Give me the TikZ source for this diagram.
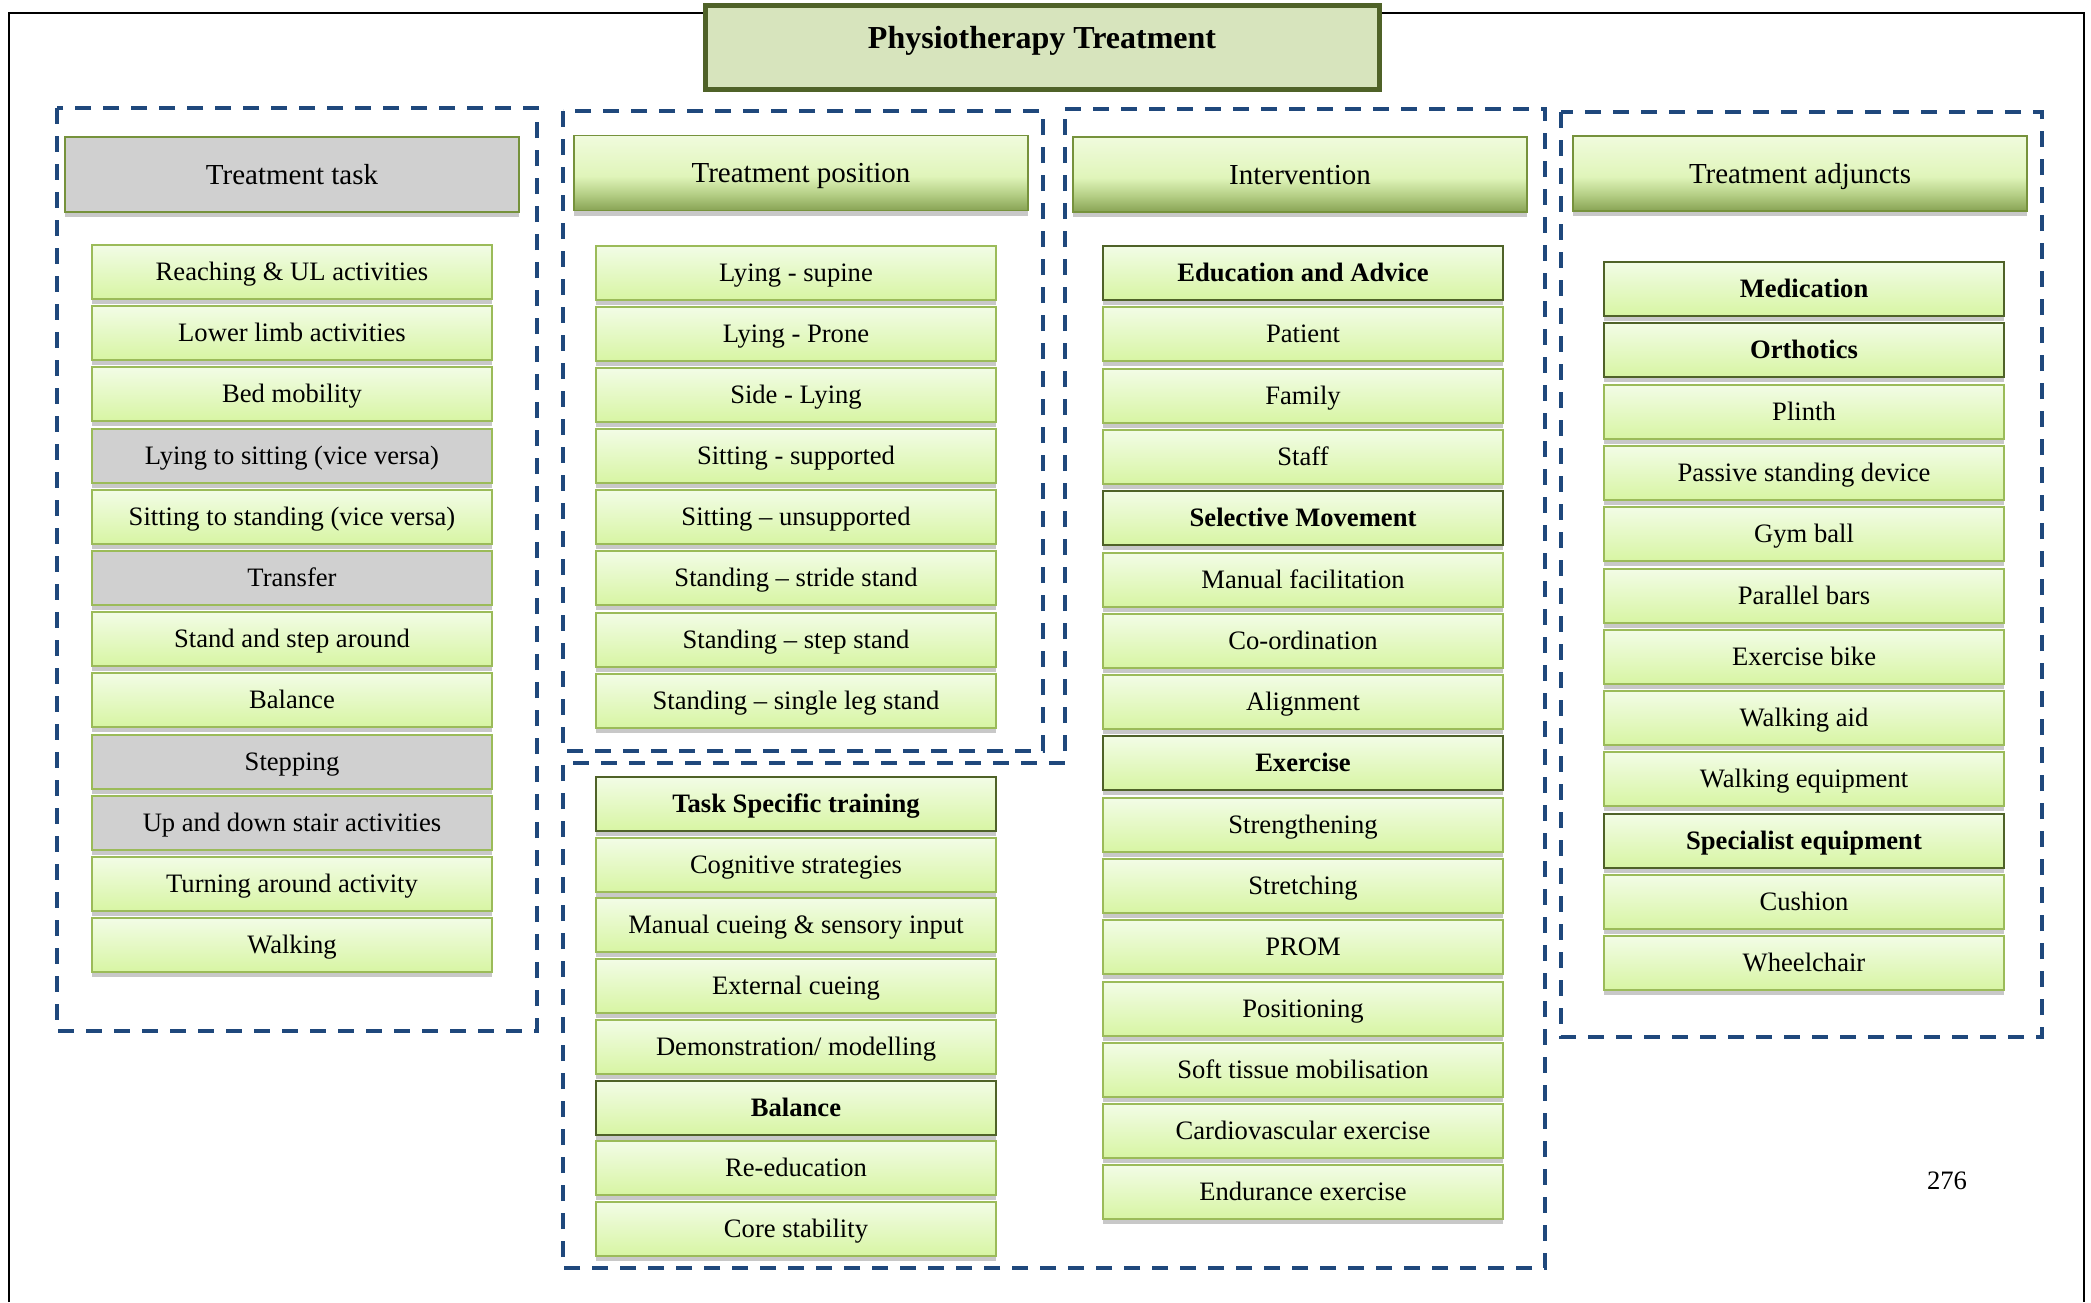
\documentclass[tikz,border=0pt]{standalone}
\usepackage{fontspec}
\setmainfont{Liberation Serif}
\usetikzlibrary{shadows}

\definecolor{dashblue}{HTML}{1F487C}
\definecolor{itemtop}{HTML}{F2FCE6}
\definecolor{itembot}{HTML}{D7F5A3}
\definecolor{itemline}{HTML}{9BBB59}
\definecolor{keyline}{HTML}{4F6228}
\definecolor{shadowc}{HTML}{C8C8C8}
\definecolor{greyfill}{HTML}{D0D0D0}
\definecolor{hdrline}{HTML}{76923C}
\definecolor{hdrtop}{HTML}{F0FBDD}
\definecolor{hdrlight}{HTML}{E0F5BA}
\definecolor{hdrmid}{HTML}{B5CF86}
\definecolor{hdrbot}{HTML}{88A354}
\definecolor{titlefill}{HTML}{D7E4BD}
\definecolor{titleline}{HTML}{4F6228}

% header gradient: pale green on top, darkening to olive at the bottom edge
\pgfdeclareverticalshading{hdrshade}{100bp}{color(0bp)=(hdrbot); color(25bp)=(hdrbot); color(36bp)=(hdrmid); color(48bp)=(hdrlight); color(75bp)=(hdrtop); color(100bp)=(hdrtop)}

\tikzset{
  dbox/.style={draw=dashblue, line width=2pt, dash pattern=on 8pt off 6pt},
  pageline/.style={draw=black, line width=1.25pt},
  shad/.style={drop shadow={fill=shadowc, opacity=1, shadow xshift=0pt, shadow yshift=-2.5pt}},
  itembase/.style={rectangle, minimum width=200pt, minimum height=27pt, inner sep=0pt,
    line width=1.3pt, font=\fontsize{13.3}{15}\selectfont, text height=9.6pt, text depth=1pt},
  item/.style={itembase, shad, top color=itemtop, bottom color=itembot, draw=itemline},
  keyitem/.style={item, draw=keyline, font=\fontsize{13.3}{15}\selectfont\bfseries},
  greyitem/.style={itembase, shad, fill=greyfill, draw=itemline},
  hdrbase/.style={rectangle, minimum width=227pt, minimum height=37.5pt, inner sep=0pt,
    line width=0.8pt, draw=hdrline, shad, font=\fontsize{14.5}{17}\selectfont,
    text height=10.5pt, text depth=1pt},
  hdr/.style={hdrbase, shading=hdrshade},
  greyhdr/.style={hdrbase, fill=greyfill},
  titlebox/.style={rectangle, minimum width=337pt, minimum height=42pt, inner sep=0pt,
    fill=titlefill, draw=titleline, line width=2.5pt,
    font=\fontsize{16}{19}\selectfont\bfseries, text height=11pt, text depth=10pt},
  pagenum/.style={font=\fontsize{13.3}{15}\selectfont, inner sep=0pt}
}

\begin{document}
\begin{tikzpicture}[x=0.5pt, y=-0.5pt]
\useasboundingbox (0,0) rectangle (2091,1302);

% page frame
\draw[pageline] (9,1302) -- (9,13) -- (2084,13) -- (2084,1302);

% title
\node[titlebox] (title) at (1042,47) {Physiotherapy Treatment};

% dashed group frames
\draw[dbox] (57,108) rectangle (537,1031);
\draw[dbox] (563,111) rectangle (1043,751);
\draw[dbox] (1065,109) -- (1545,109) -- (1545,1268) -- (563,1268) -- (563,763) -- (1065,763) -- cycle;
\draw[dbox] (1561,112) rectangle (2042,1037);

% column headers
\node[greyhdr] (h1) at (292,174.5) {Treatment task};
\node[hdr] (h2) at (801,173) {Treatment position};
\node[hdr] (h3) at (1300,174.5) {Intervention};
\node[hdr] (h4) at (1800,173.5) {Treatment adjuncts};

% treatment tasks
\node[item]     (a1)  at (292,272) {Reaching \& UL activities};
\node[item]     (a2)  at (292,333) {Lower limb activities};
\node[item]     (a3)  at (292,394) {Bed mobility};
\node[greyitem] (a4)  at (292,456) {Lying to sitting (vice versa)};
\node[item]     (a5)  at (292,517) {Sitting to standing (vice versa)};
\node[greyitem] (a6)  at (292,578) {Transfer};
\node[item]     (a7)  at (292,639) {Stand and step around};
\node[item]     (a8)  at (292,700) {Balance};
\node[greyitem] (a9)  at (292,762) {Stepping};
\node[greyitem] (a10) at (292,823) {Up and down stair activities};
\node[item]     (a11) at (292,884) {Turning around activity};
\node[item]     (a12) at (292,945) {Walking};

% treatment positions
\node[item] (b1) at (796,273) {Lying - supine};
\node[item] (b2) at (796,334) {Lying - Prone};
\node[item] (b3) at (796,395) {Side - Lying};
\node[item] (b4) at (796,456) {Sitting - supported};
\node[item] (b5) at (796,517) {Sitting -- unsupported};
\node[item] (b6) at (796,578) {Standing -- stride stand};
\node[item] (b7) at (796,640) {Standing -- step stand};
\node[item] (b8) at (796,701) {Standing -- single leg stand};

% task specific training and balance
\node[keyitem] (c1) at (796,804)  {Task Specific training};
\node[item]    (c2) at (796,865)  {Cognitive strategies};
\node[item]    (c3) at (796,925)  {Manual cueing \& sensory input};
\node[item]    (c4) at (796,986)  {External cueing};
\node[item]    (c5) at (796,1047) {Demonstration/ modelling};
\node[keyitem] (c6) at (796,1108) {Balance};
\node[item]    (c7) at (796,1168) {Re-education};
\node[item]    (c8) at (796,1229) {Core stability};

% interventions
\node[keyitem] (d1)  at (1303,273)  {Education and Advice};
\node[item]    (d2)  at (1303,334)  {Patient};
\node[item]    (d3)  at (1303,396)  {Family};
\node[item]    (d4)  at (1303,457)  {Staff};
\node[keyitem] (d5)  at (1303,518)  {Selective Movement};
\node[item]    (d6)  at (1303,580)  {Manual facilitation};
\node[item]    (d7)  at (1303,641)  {Co-ordination};
\node[item]    (d8)  at (1303,702)  {Alignment};
\node[keyitem] (d9)  at (1303,763)  {Exercise};
\node[item]    (d10) at (1303,825)  {Strengthening};
\node[item]    (d11) at (1303,886)  {Stretching};
\node[item]    (d12) at (1303,947)  {PROM};
\node[item]    (d13) at (1303,1009) {Positioning};
\node[item]    (d14) at (1303,1070) {Soft tissue mobilisation};
\node[item]    (d15) at (1303,1131) {Cardiovascular exercise};
\node[item]    (d16) at (1303,1192) {Endurance exercise};

% treatment adjuncts
\node[keyitem] (e1)  at (1804,289) {Medication};
\node[keyitem] (e2)  at (1804,350) {Orthotics};
\node[item]    (e3)  at (1804,412) {Plinth};
\node[item]    (e4)  at (1804,473) {Passive standing device};
\node[item]    (e5)  at (1804,534) {Gym ball};
\node[item]    (e6)  at (1804,596) {Parallel bars};
\node[item]    (e7)  at (1804,657) {Exercise bike};
\node[item]    (e8)  at (1804,718) {Walking aid};
\node[item]    (e9)  at (1804,779) {Walking equipment};
\node[keyitem] (e10) at (1804,841) {Specialist equipment};
\node[item]    (e11) at (1804,902) {Cushion};
\node[item]    (e12) at (1804,963) {Wheelchair};

% page number
\node[pagenum] (pg) at (1947,1181) {276};
\end{tikzpicture}
\end{document}
